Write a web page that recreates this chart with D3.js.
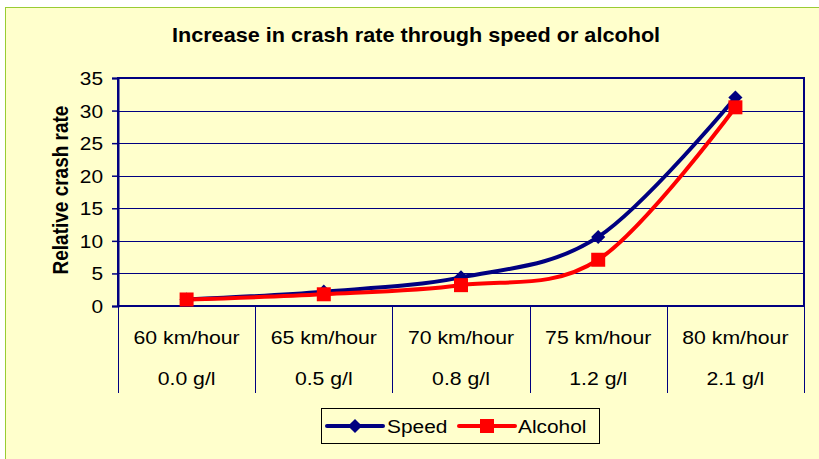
<!DOCTYPE html>
<html>
<head>
<meta charset="utf-8">
<script src="https://cdn.jsdelivr.net/npm/d3@7"></script>
<style>
body { margin: 0; background: #fff; }
svg { display: block; font-family: "Liberation Sans", Arial, sans-serif; }
</style>
</head>
<body>
<svg id="chart"></svg>
<script>
// chart values
var speeds = ["60 km/hour", "65 km/hour", "70 km/hour", "75 km/hour", "80 km/hour"];
var alcohols = ["0.0 g/l", "0.5 g/l", "0.8 g/l", "1.2 g/l", "2.1 g/l"];
var speedValues = [1, 2.2, 4.4, 10.6, 32];
var alcoholValues = [1, 1.8, 3.2, 7.1, 30.5];
var yTicks = [0, 5, 10, 15, 20, 25, 30, 35];

var W = 819, H = 459,
	margin = {top: 78, right: 15, bottom: 153, left: 118},
	width = 804 - margin.left,
	height = 306 - margin.top,
	navy = "#000080",
	bg = "#FFFFCC",
	stretch = 1.16; // the original text is a bit wide

function at(x, y, s) {
	return "translate(" + x + "," + y + ") scale(" + (s || stretch) + ",1)";
}

var svg = d3.select("#chart").attr("width", W).attr("height", H);

// chart area
svg.append("rect")
	.attr("x", 5.5).attr("y", 7.5)
	.attr("width", W + 10).attr("height", H + 10)
	.attr("fill", bg)
	.attr("stroke", "#99CC33")
	.attr("stroke-width", 1);

svg.append("text")
	.attr("transform", at(416, 42, 1.11))
	.attr("text-anchor", "middle")
	.attr("font-size", 19.5)
	.attr("font-weight", "bold")
	.text("Increase in crash rate through speed or alcohol");

var g = svg.append("g")
	.attr("transform", "translate(" + margin.left + "," + margin.top + ")");

var xScale = d3.scaleBand().domain(speeds).range([0, width]).padding(0);
var yScale = d3.scaleLinear().domain([0, 35]).range([height, 0]);

// gridlines
g.selectAll(".grid")
	.data(yTicks.slice(1))
	.enter().append("line")
	.attr("x1", 0).attr("x2", width)
	.attr("y1", function(d) { return Math.round(yScale(d)) + 0.5; })
	.attr("y2", function(d) { return Math.round(yScale(d)) + 0.5; })
	.attr("stroke", navy)
	.attr("stroke-width", 1);

// plot border
g.append("rect")
	.attr("x", 0).attr("y", 0)
	.attr("width", width).attr("height", height)
	.attr("fill", "none")
	.attr("stroke", navy)
	.attr("stroke-width", 2);

// y axis
var yAxis = d3.axisLeft(yScale).tickValues(yTicks).tickSize(6).tickFormat("");
var ya = g.append("g").call(yAxis);
ya.select(".domain").attr("stroke", navy).attr("stroke-width", 2);
ya.selectAll(".tick line").attr("stroke", navy).attr("stroke-width", 1.5);
ya.selectAll(".tick").append("text")
	.attr("transform", function(d) { return at(-15, 6.5); })
	.attr("text-anchor", "end")
	.attr("font-size", 18)
	.attr("fill", "#000")
	.text(function(d) { return d; });

svg.append("text")
	.attr("transform", at(68, margin.top + height / 2 - 2, 1.12) + " rotate(-90)")
	.attr("text-anchor", "middle")
	.attr("font-size", 19)
	.attr("font-weight", "bold")
	.text("Relative crash rate");

// category table below axis
var bounds = speeds.map(function(d) { return xScale(d); }).concat([width]);
g.selectAll(".divider")
	.data(bounds)
	.enter().append("line")
	.attr("x1", function(d) { return Math.round(d) + 0.5; })
	.attr("x2", function(d) { return Math.round(d) + 0.5; })
	.attr("y1", height).attr("y2", height + 87)
	.attr("stroke", navy)
	.attr("stroke-width", 1);

g.selectAll(".speedLabel")
	.data(speeds)
	.enter().append("text")
	.attr("transform", function(d) { return at(xScale(d) + xScale.bandwidth() / 2, height + 38, 1.18); })
	.attr("text-anchor", "middle")
	.attr("font-size", 18)
	.text(function(d) { return d; });

g.selectAll(".alcLabel")
	.data(alcohols)
	.enter().append("text")
	.attr("transform", function(d, i) { return at(xScale(speeds[i]) + xScale.bandwidth() / 2, height + 79, 1.18); })
	.attr("text-anchor", "middle")
	.attr("font-size", 18)
	.text(function(d) { return d; });

// lines
var line = d3.line()
	.x(function(d, i) { return xScale(speeds[i]) + xScale.bandwidth() / 2; })
	.y(function(d) { return yScale(d); })
	.curve(d3.curveCardinal.tension(0));

g.append("path").datum(speedValues)
	.attr("d", line).attr("fill", "none")
	.attr("stroke", navy).attr("stroke-width", 4);
g.append("path").datum(alcoholValues)
	.attr("d", line).attr("fill", "none")
	.attr("stroke", "#FF0000").attr("stroke-width", 4);

var diamond = d3.symbol().type(d3.symbolSquare).size(100);
g.selectAll(".spd")
	.data(speedValues)
	.enter().append("path")
	.attr("d", diamond)
	.attr("transform", function(d, i) {
		return "translate(" + (xScale(speeds[i]) + xScale.bandwidth() / 2) + "," + yScale(d) + ") rotate(45)";
	})
	.attr("fill", navy);

g.selectAll(".alc")
	.data(alcoholValues)
	.enter().append("rect")
	.attr("x", function(d, i) { return xScale(speeds[i]) + xScale.bandwidth() / 2 - 7; })
	.attr("y", function(d) { return yScale(d) - 7; })
	.attr("width", 14).attr("height", 14)
	.attr("fill", "#FF0000");

// legend
var legend = svg.append("g").attr("transform", "translate(321,408)");
legend.append("rect")
	.attr("x", 0.5).attr("y", 0.5).attr("width", 278).attr("height", 35)
	.attr("fill", bg).attr("stroke", "#000").attr("stroke-width", 1);

legend.append("line").attr("x1", 6).attr("x2", 62).attr("y1", 18).attr("y2", 18)
	.attr("stroke", navy).attr("stroke-width", 4).attr("stroke-linecap", "round");
legend.append("path").attr("d", diamond)
	.attr("transform", "translate(34,18) rotate(45)").attr("fill", navy);
legend.append("text").attr("transform", at(66, 25)).attr("font-size", 18).text("Speed");

legend.append("line").attr("x1", 138).attr("x2", 194).attr("y1", 18).attr("y2", 18)
	.attr("stroke", "#FF0000").attr("stroke-width", 4).attr("stroke-linecap", "round");
legend.append("rect").attr("x", 159).attr("y", 11).attr("width", 14).attr("height", 14)
	.attr("fill", "#FF0000");
legend.append("text").attr("transform", at(197, 25)).attr("font-size", 18).text("Alcohol");
</script>
</body>
</html>
